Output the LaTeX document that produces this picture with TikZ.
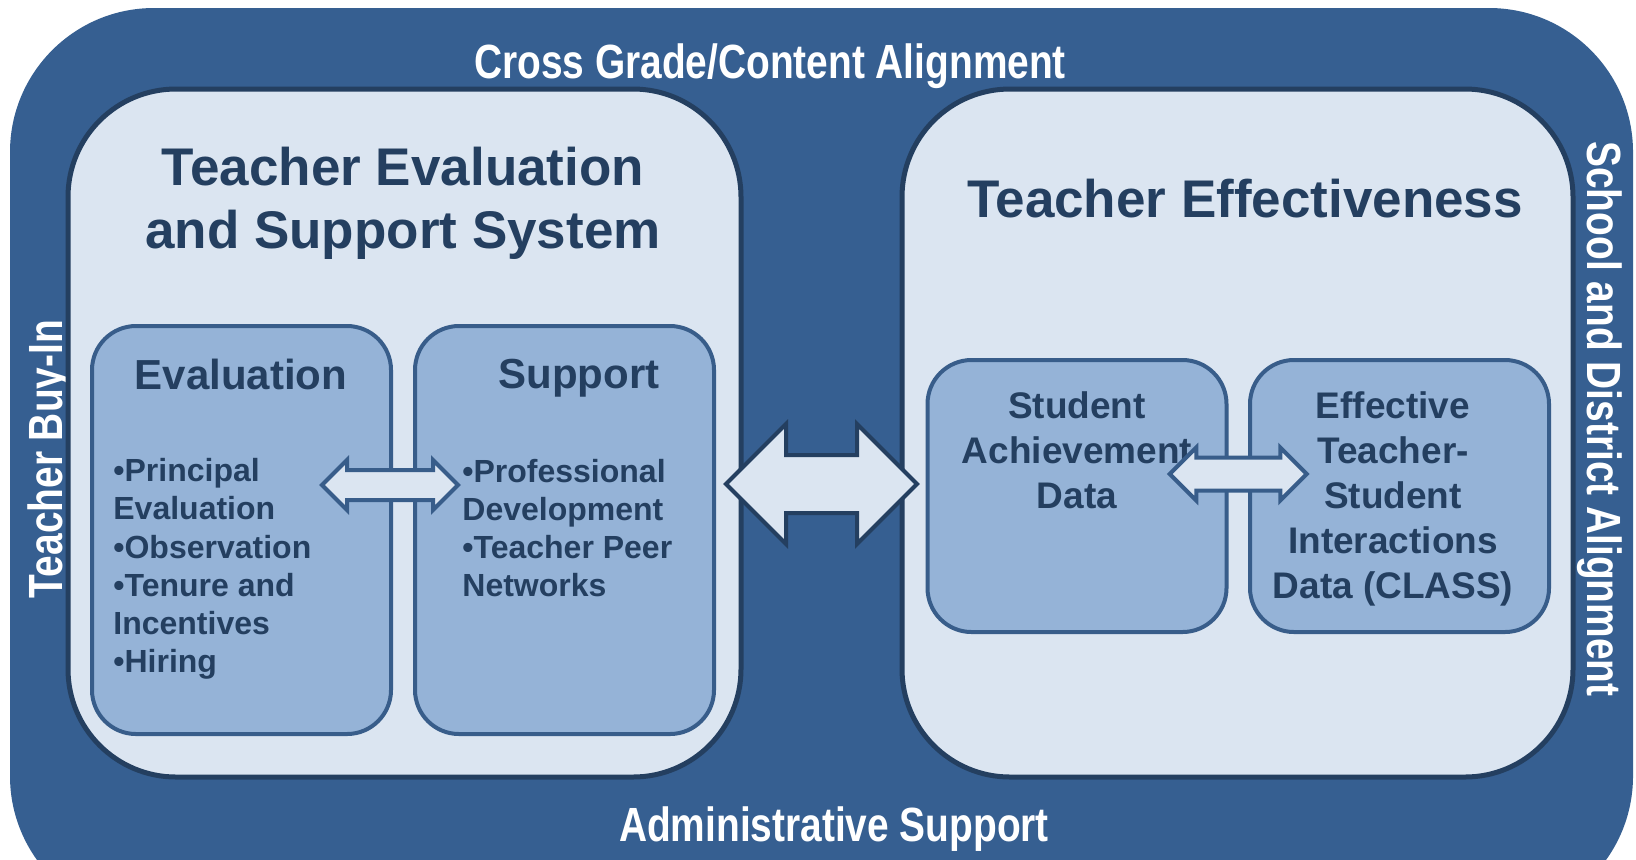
\documentclass[tikz,border=0pt]{standalone}
\usepackage{fontspec}
\setmainfont{Liberation Sans}
\newfontfamily\bandfont[FakeStretch=0.81]{Liberation Sans Bold}
\usetikzlibrary{shapes.arrows,calc}
\definecolor{bandblue}{HTML}{365F91}
\definecolor{navy}{HTML}{243F60}
\definecolor{panelfill}{HTML}{DBE5F1}
\definecolor{boxfill}{HTML}{95B3D7}
\definecolor{boxedge}{HTML}{385D8A}

\begin{document}
\begin{tikzpicture}[x=0.5pt, y=-0.5pt,
    panel/.style={draw=navy, fill=panelfill, line width=2.5pt, rounded corners=54pt, minimum width=#1, minimum height=344pt, inner sep=0pt},
    subbox/.style={draw=boxedge, fill=boxfill, line width=2pt, rounded corners=22pt, minimum width=149.5pt, minimum height=#1, inner sep=0pt},
    band/.style={text=white, font=\bandfont\fontsize{24}{28}\selectfont, inner sep=0pt},
    title/.style={text=navy, font=\bfseries\fontsize{26.5}{31.5}\selectfont, align=center, inner sep=0pt},
    head/.style={text=navy, font=\bfseries\fontsize{21}{25}\selectfont, inner sep=0pt},
    items/.style={text=navy, font=\bfseries\fontsize{16}{19.1}\selectfont, align=left, anchor=west, inner sep=0pt},
    data/.style={text=navy, font=\bfseries\fontsize{18.5}{22.4}\selectfont, align=center, inner sep=0pt},
    dblarrow/.style={double arrow, draw=boxedge, fill=panelfill, line width=2pt, inner xsep=0pt}]
  \useasboundingbox (0,0) rectangle (1636,859);
  \clip (0,0) rectangle (1636,859);
  % outer band
  \fill[bandblue, rounded corners=72pt] (10,8) rectangle (1633,920);
  \node[band] (cross) at (770,66) {Cross Grade/Content Alignment};
  \node[band] (admin) at (834,829) {Administrative Support};
  \node[band, rotate=90] (buyin) at (50,459) {Teacher Buy-In};
  \node[band, rotate=-90] (district) at (1600,419) {School and District Alignment};

  % the two panels
  \node[panel=336.5pt] (tesys) at (404.5,433) {};
  \node[panel=335.5pt] (teff) at (1237.5,433) {};
  \node[title] (tesyshead) at (403,203) {Teacher Evaluation\\and Support System};
  \node[title] (teffhead) at (1245,199) {Teacher Effectiveness};

  % inner boxes, left
  \node[subbox=204pt] (eval) at (241.5,530) {};
  \node[subbox=204pt] (supp) at (564.5,530) {};
  \node[head] (evalhead) at (241,374) {Evaluation};
  \node[head] (supphead) at (579,378) {Support};
  \node[items] (evalitems) at (113,569) {•Principal\\Evaluation\\•Observation\\•Tenure and\\Incentives\\•Hiring};
  \node[items] (suppitems) at (462,528) {•Professional\\Development\\•Teacher Peer\\Networks};

  % inner boxes, right
  \node[subbox=136pt] (achv) at (1077,496) {};
  \node[subbox=136pt] (class) at (1399.5,496) {};
  \node[data] (achvtext) at (1077,450) {Student\\Achievement\\Data};
  \node[data] (classtext) at (1393,499) {Effective\\Teacher-\\Student\\Interactions\\Data (CLASS)};

  % arrows
  \node[dblarrow, minimum height=68pt, inner ysep=6.5pt, double arrow head extend=5pt] (evalsupp) at ($(eval.east)!0.5!(supp.west)+(-13,-45)$) {};
  \node[dblarrow, draw=navy, minimum height=95.5pt, inner ysep=13.5pt, double arrow head extend=15.5pt] (link) at ($(tesys.east)!0.5!(teff.west)+(0,51)$) {};
  \node[dblarrow, minimum height=68.5pt, inner ysep=7.25pt, double arrow head extend=5pt] (achvclass) at ($(achv.east)!0.5!(class.west)+(0,-22)$) {};
\end{tikzpicture}
\end{document}
